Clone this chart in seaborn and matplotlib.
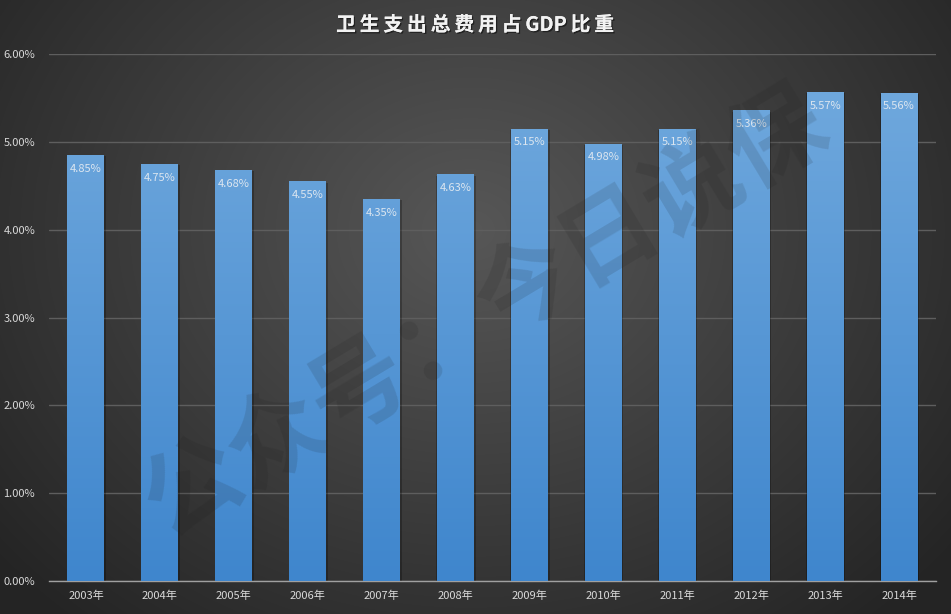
import numpy as np
import pandas as pd
import matplotlib
matplotlib.use("Agg")
import matplotlib.pyplot as plt
import matplotlib.patheffects as pe
import seaborn as sns
from matplotlib.colors import LinearSegmentedColormap
from matplotlib.ticker import FuncFormatter

years = ["2003年", "2004年", "2005年", "2006年", "2007年", "2008年",
         "2009年", "2010年", "2011年", "2012年", "2013年", "2014年"]
values = [4.85, 4.75, 4.68, 4.55, 4.35, 4.63, 5.15, 4.98, 5.15, 5.36, 5.57, 5.56]
title = "卫生支出总费用占GDP比重"
watermark = "公众号：今日说保"

sns.set_theme(style="dark")
plt.rcParams['font.family'] = ['Noto Sans CJK SC', 'DejaVu Sans']

fig = plt.figure(figsize=(9.51, 6.14), dpi=100)

# background radial gradient
bg = fig.add_axes([0, 0, 1, 1], zorder=0)
bg.set_axis_off()
yy, xx = np.mgrid[0:614, 0:951]
r = np.sqrt(((xx - 470) / 620.0) ** 2 + ((yy - 230) / 520.0) ** 2)
r = np.clip(r, 0, 1)
light = np.array([0x57, 0x57, 0x57]) / 255
dark = np.array([0x24, 0x24, 0x24]) / 255
img = light[None, None, :] * (1 - r[..., None]) + dark[None, None, :] * r[..., None]
bg.imshow(img, extent=[0, 1, 0, 1], aspect='auto', origin='upper')
bg.set_xlim(0, 1); bg.set_ylim(0, 1)

ax = fig.add_axes([49 / 951, 1 - 581 / 614, (936 - 49) / 951, (581 - 54) / 614], zorder=1)
ax.patch.set_alpha(0)

df = pd.DataFrame({"year": years, "value": values})
sns.barplot(data=df, x="year", y="value", ax=ax, color="#5b9bd5", width=0.5,
            saturation=1, zorder=3, linewidth=0, edgecolor="none")

ax.set_ylim(0, 6)
ax.set_xlim(-0.5, len(years) - 0.5)
ax.set_yticks(np.arange(0, 7, 1))
ax.yaxis.set_major_formatter(FuncFormatter(lambda v, p: f"{v:.2f}%"))
ax.grid(axis='y', color='#5e5e5e', linewidth=1, zorder=0)
ax.grid(axis='x', visible=False)
for s in ['top', 'right', 'left']:
    ax.spines[s].set_visible(False)
ax.spines['bottom'].set_color('#a0a0a0')
ax.spines['bottom'].set_linewidth(1)
ax.tick_params(axis='both', length=0, colors='#d9d9d9', labelsize=8)
ax.tick_params(axis='x', pad=7)
ax.tick_params(axis='y', pad=10)
ax.set_xlabel("")
ax.set_ylabel("")

cmap = LinearSegmentedColormap.from_list("barg", ["#3f86cd", "#6fa8dd"])
grad = np.linspace(0, 1, 256).reshape(-1, 1)
for p, v in zip(ax.patches, values):
    x0, w, h = p.get_x(), p.get_width(), p.get_height()
    sh = plt.Rectangle((x0 - 0.008, 0), w + 0.03, h - 0.015, color='black', alpha=0.25,
                       zorder=2, linewidth=0)
    ax.add_patch(sh)
    im = ax.imshow(grad, extent=[x0, x0 + w, 0, 5.6], origin='lower', cmap=cmap,
                   aspect='auto', zorder=4)
    im.set_clip_path(p)
    ax.text(x0 + w / 2, h - 0.1, f"{v:.2f}%", ha='center', va='top', fontsize=8,
            color='#dce6f0', zorder=6)

ax.set_xlim(-0.5, len(years) - 0.5)
ax.set_ylim(0, 6)

# watermark overlay
wm = fig.add_axes([0, 0, 1, 1], zorder=3)
wm.set_axis_off()
wm.patch.set_alpha(0)
wm.text(0.51, 0.49, watermark, rotation=31, fontsize=70, fontweight='bold',
        color='#1a1a1a', alpha=0.13, ha='center', va='center', zorder=5)

spaced_title = "\u2009".join(title[:8]) + "\u2009" + "GDP" + "\u2009" + "\u2009".join(title[-2:])
fig.text(0.5, 1 - 25 / 614, spaced_title, ha='center', va='center', fontsize=14.2,
         fontweight='bold', color='#f2f2f2',
         path_effects=[pe.withSimplePatchShadow(offset=(1, -1), shadow_rgbFace='black', alpha=0.5),
                       pe.Normal()])

fig.savefig("out.png", dpi=100)
